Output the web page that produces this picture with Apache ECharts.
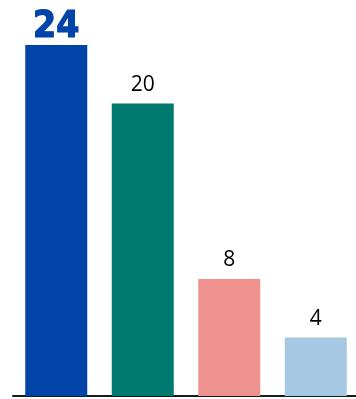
<!DOCTYPE html>
<html>
<head>
<meta charset="utf-8">
<style>
  html, body { margin: 0; padding: 0; background: #fff; }
  #chart { width: 356px; height: 399px; }
</style>
<script src="https://cdn.jsdelivr.net/npm/echarts@6/dist/echarts.min.js"></script>
</head>
<body>
<div id="chart"></div>
<script>
var categories = ['A', 'B', 'C', 'D'];
var values = [24, 20, 8, 4];
var barColors = ['#0044aa', '#007a6e', '#ef928f', '#a6c8e2'];

var chart = echarts.init(document.getElementById('chart'));

var seriesData = values.map(function (v, i) {
    var item = { value: v, itemStyle: { color: barColors[i] } };
    if (i === 0) {
        // first bar is the highlighted one: big heavy blue label
        item.label = {
            color: '#0044aa',
            fontFamily: 'DejaVu Sans Condensed, DejaVu Sans',
            fontWeight: 'bold',
            fontSize: 37,
            textBorderColor: '#0044aa',
            textBorderWidth: 1.2,
            distance: -1
        };
    }
    return item;
});

chart.setOption({
    animation: false,
    grid: { left: 13, right: -3, top: 45, bottom: 3, outerBoundsMode: 'none', containLabel: false },
    xAxis: {
        type: 'category',
        data: categories,
        axisLine: { show: true, lineStyle: { color: '#1a1a1a', width: 2 } },
        axisTick: { show: false },
        axisLabel: { show: false }
    },
    yAxis: { type: 'value', min: 0, max: 24, show: false, splitLine: { show: false } },
    series: [{
        type: 'bar',
        data: seriesData,
        barWidth: 62,
        label: { show: true, position: 'top', distance: 8, color: '#000', fontFamily: 'Open Sans', fontSize: 21 }
    }]
});
</script>
</body>
</html>
